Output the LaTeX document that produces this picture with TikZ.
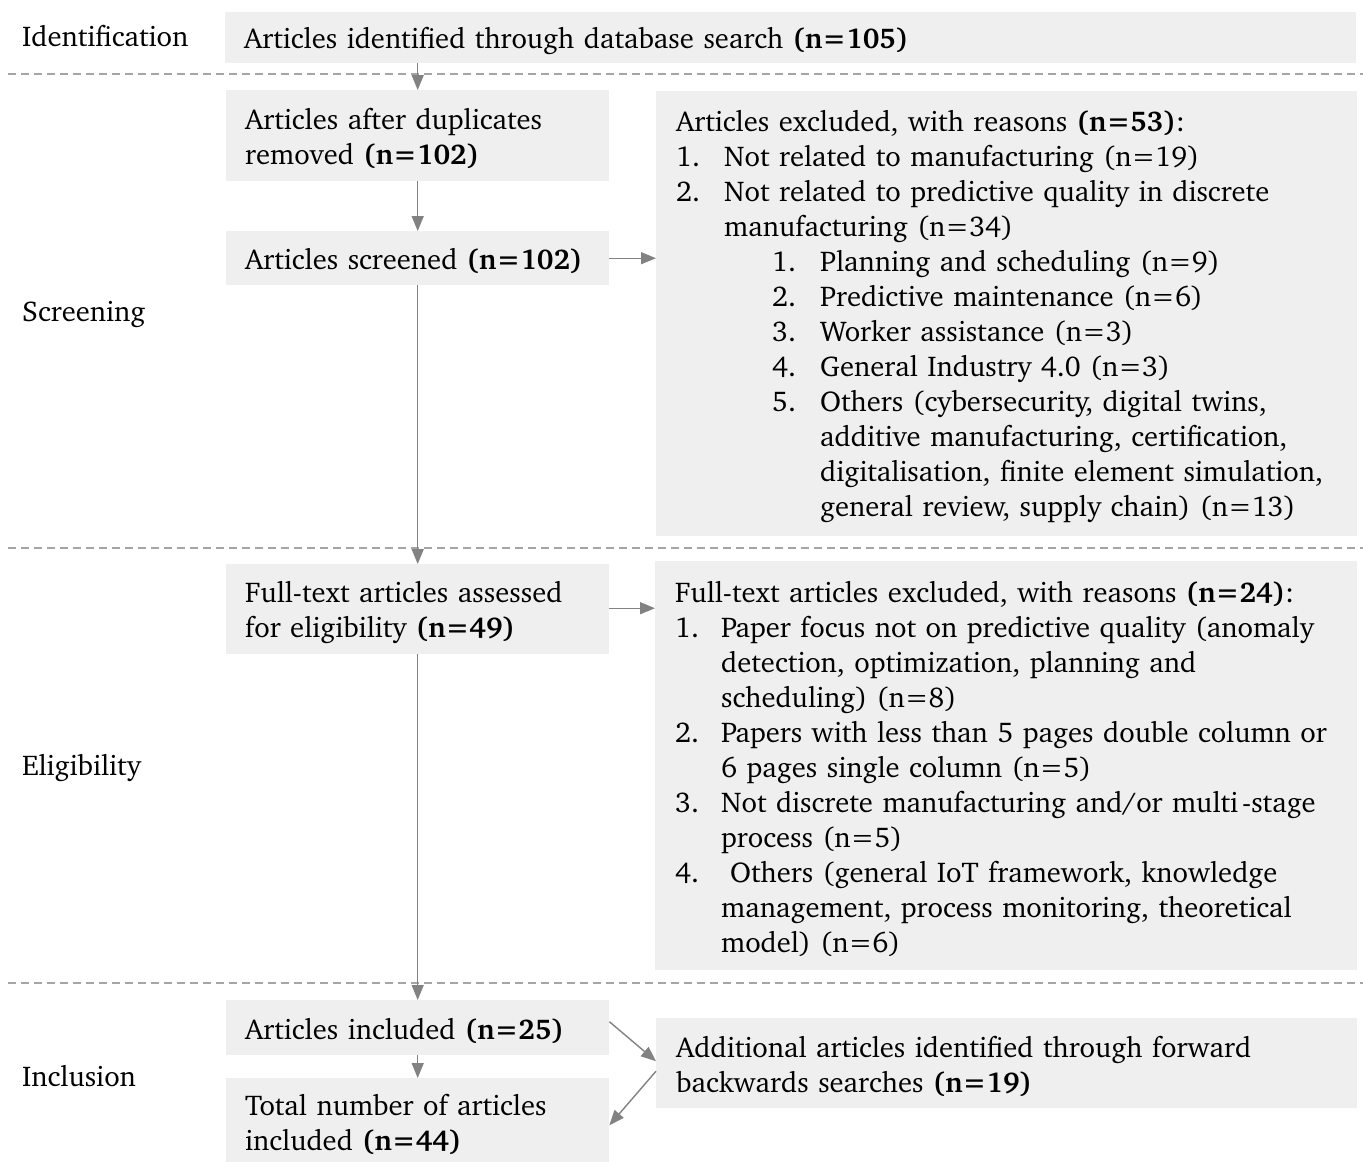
\documentclass[tikz,border=0pt]{standalone}
\usepackage[T1]{fontenc}
\usepackage{charter}
\usetikzlibrary{arrows.meta}

\definecolor{boxfill}{RGB}{239,239,239}
\definecolor{linkgray}{RGB}{130,130,130}
\definecolor{rulegray}{RGB}{165,165,165}

\newcommand\diagfont{\fontsize{28.6}{35}\selectfont}
% numbered line: number in a fixed-width slot, then the text
\newcommand\numline[3][48pt]{\makebox[#1][l]{#2}#3}

\tikzset{
  box/.style={fill=boxfill, anchor=north west, inner xsep=19pt, inner ysep=0pt,
              align=left, font=\diagfont,
              execute at begin node={\rule{0pt}{27pt}}},
  phase/.style={anchor=west, inner sep=0pt, font=\diagfont},
  link/.style={draw=linkgray, line width=1.4pt, -{Triangle[length=15pt,width=12pt]}},
  divider/.style={draw=rulegray, line width=1.3pt, dash pattern=on 8pt off 5pt},
}

\begin{document}
\begin{tikzpicture}[x=1pt, y=-1pt]
  \useasboundingbox (0,0) rectangle (1363,1162);
  \fill[white] (0,0) rectangle (1363,1162);

  % phase dividers
  \draw[divider] (8,74) -- (1363,74);
  \draw[divider] (8,548) -- (1363,548);
  \draw[divider] (8,983) -- (1363,983);

  % phase labels
  \node[phase] (lid)  at (22,36)   {Identification};
  \node[phase] (lscr) at (22,314)  {Screening};
  \node[phase] (lelg) at (22,768)  {Eligibility};
  \node[phase] (linc) at (22,1076) {Inclusion};

  % main flow boxes
  \node[box, text width=1093pt, minimum height=51pt] (ident) at (225,12)
    {Articles identified through database search \textbf{(n=105)}};
  \node[box, text width=345pt, minimum height=91pt] (dupl) at (226,90)
    {Articles after duplicates\\removed \textbf{(n=102)}};
  \node[box, text width=345pt, minimum height=54pt] (screen) at (226,231)
    {Articles screened \textbf{(n=102)}};
  \node[box, text width=345pt, minimum height=90pt] (full) at (226,564)
    {Full-text articles assessed\\for eligibility \textbf{(n=49)}};
  \node[box, text width=345pt, minimum height=55pt] (incl) at (226,1000)
    {Articles included \textbf{(n=25)}};
  \node[box, text width=345pt, minimum height=86pt] (total) at (226,1078)
    {Total number of articles\\included \textbf{(n=44)}};

  % side boxes
  \node[box, inner xsep=20pt, text width=661pt, minimum height=445pt] (excl) at (656,91)
    {Articles excluded, with reasons \textbf{(n=53)}:\\
     \numline{1.}{Not related to manufacturing (n=19)}\\
     \numline{2.}{Not related to predictive quality in discrete}\\
     \hspace*{48pt}manufacturing (n=34)\\
     \hspace*{96pt}\numline{1.}{Planning and scheduling (n=9)}\\
     \hspace*{96pt}\numline{2.}{Predictive maintenance (n=6)}\\
     \hspace*{96pt}\numline{3.}{Worker assistance (n=3)}\\
     \hspace*{96pt}\numline{4.}{General Industry 4.0 (n=3)}\\
     \hspace*{96pt}\numline{5.}{Others (cybersecurity, digital twins,}\\
     \hspace*{144pt}additive manufacturing, certification,\\
     \hspace*{144pt}digitalisation, finite element simulation,\\
     \hspace*{144pt}general review, supply chain) (n=13)};
  \node[box, inner xsep=20pt, text width=662pt, minimum height=409pt] (ftexcl) at (655,561)
    {Full-text articles excluded, with reasons \textbf{(n=24)}:\\
     \numline[46pt]{1.}{Paper focus not on predictive quality (anomaly}\\
     \hspace*{46pt}detection, optimization, planning and\\
     \hspace*{46pt}scheduling) (n=8)\\
     \numline[46pt]{2.}{Papers with less than 5 pages double column or}\\
     \hspace*{46pt}6 pages single column (n=5)\\
     \numline[46pt]{3.}{Not discrete manufacturing and/or multi\hspace{4pt}-stage}\\
     \hspace*{46pt}process (n=5)\\
     \numline[46pt]{4.}{\hspace*{9pt}Others (general IoT framework, knowledge}\\
     \hspace*{46pt}management, process monitoring, theoretical\\
     \hspace*{46pt}model) (n=6)};
  \node[box, inner xsep=20pt, text width=661pt, minimum height=90pt] (addl) at (656,1018)
    {Additional articles identified through forward\\
     backwards searches \textbf{(n=19)}};

  % connectors
  \draw[link] (ident.south -| dupl.north) -- (dupl.north);
  \draw[link] (dupl.south) -- (screen.north);
  \draw[link] (screen.east) -- (screen.east -| excl.west);
  \draw[link] (screen.south) -- (full.north);
  \draw[link] ([yshift=1pt]full.east) -- ([yshift=1pt]full.east -| ftexcl.west);
  \draw[link] (full.south) -- (incl.north);
  \draw[link] (incl.south) -- (total.north);
  \draw[link] ([yshift=6pt]incl.east) -- ([yshift=2pt]addl.west);
  \draw[link] ([yshift=-8pt]addl.west) -- ([yshift=-4pt]total.east);
\end{tikzpicture}
\end{document}
